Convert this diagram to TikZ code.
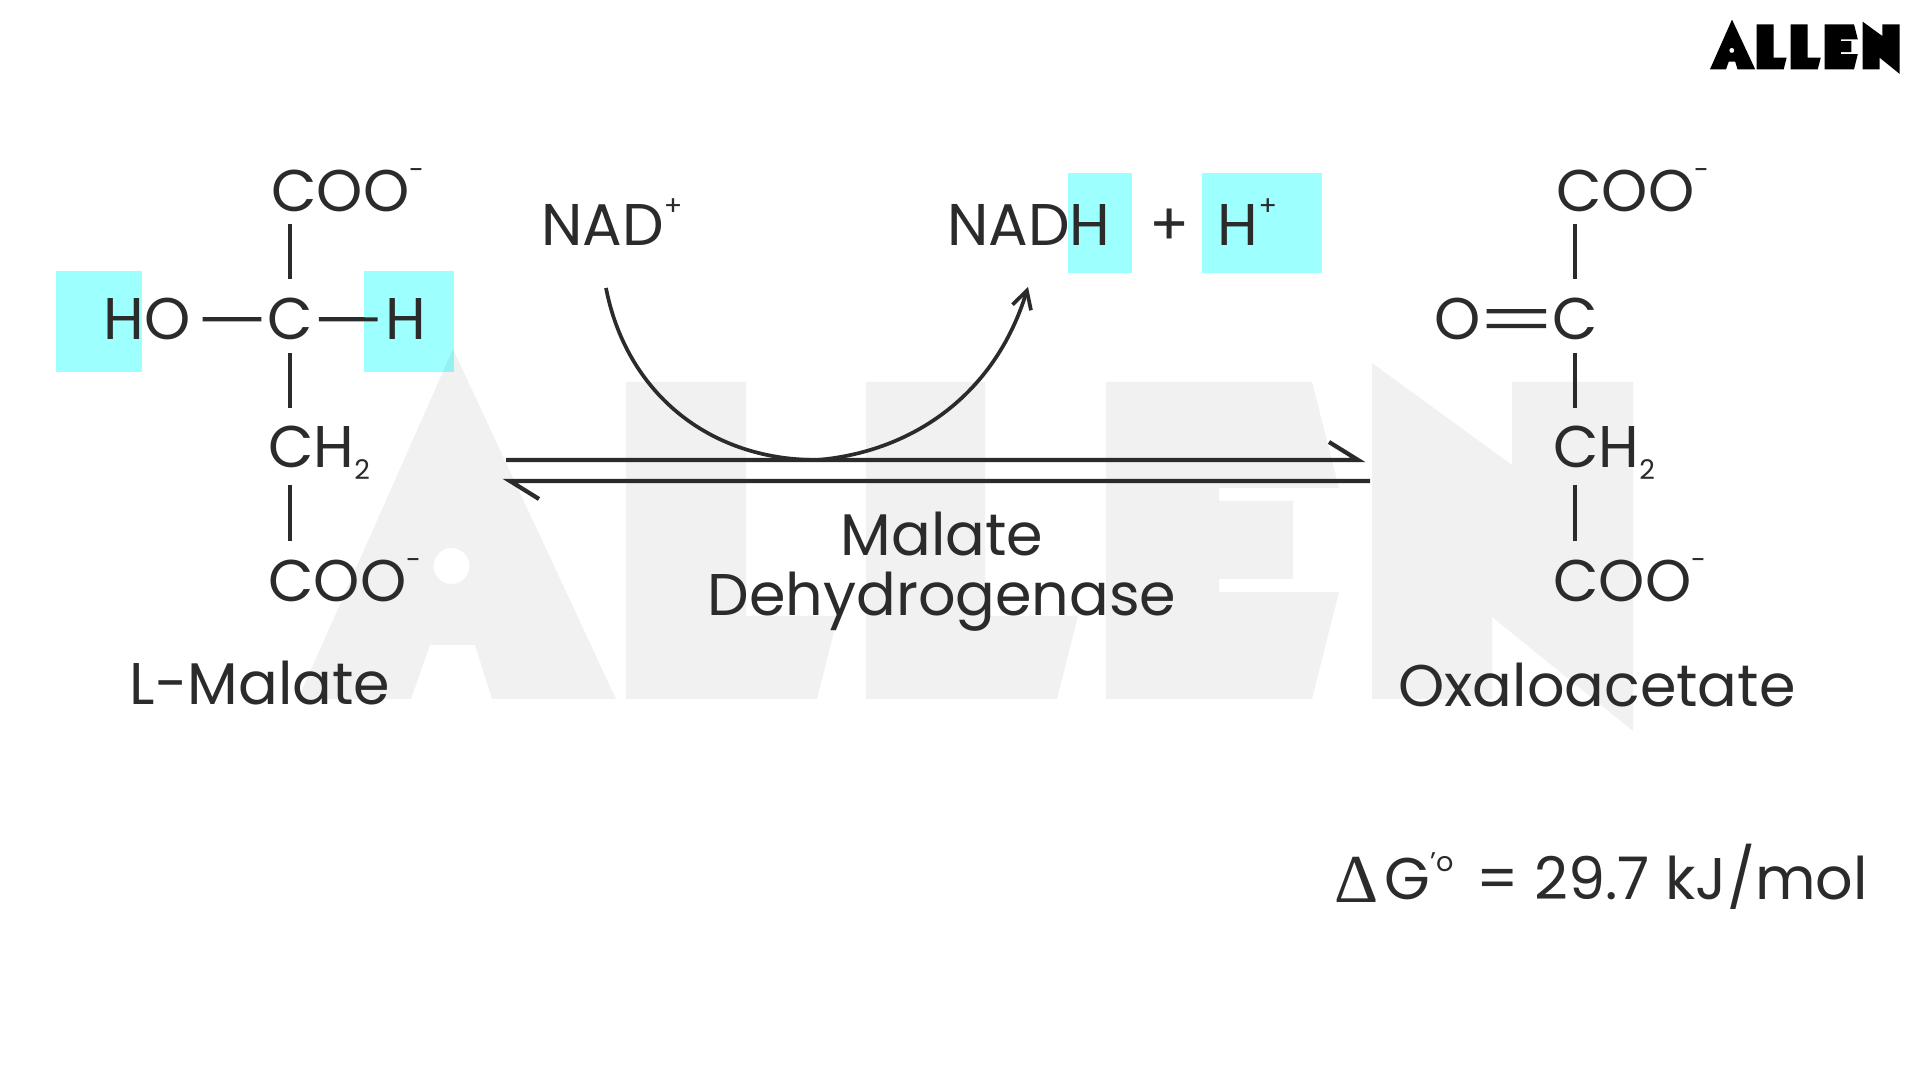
\documentclass[tikz,border=0pt]{standalone}
\usepackage{fontspec}
\setmainfont{Poppins}
\newfontfamily\deltafont{Liberation Serif}
\usetikzlibrary{arrows.meta}
\definecolor{inkgray}{HTML}{2B2B2B}
\definecolor{hilite}{HTML}{9EFFFF}
\newcommand{\chemup}[1]{\raisebox{8.6pt}[0pt][0pt]{\fontsize{7.7}{8}\selectfont #1}}
\newcommand{\chemminus}{\raisebox{9.2pt}[0pt][0pt]{\fontsize{7.7}{8}\selectfont -}}
\newcommand{\chemdown}[1]{\raisebox{-3.4pt}[0pt][0pt]{\fontsize{7.7}{8}\selectfont #1}}
\newcommand{\allenshape}{
	(453,349) -- (616,699) -- (492,699) -- (475,645) -- (430,645) -- (411,699) -- (298,699) -- cycle
	(451.5,566) circle (18)
	(626,382) -- (746,382) -- (746,616) -- (838,616) -- (817,699) -- (626,699) -- cycle
	(866,382) -- (985,382) -- (985,616) -- (1078,616) -- (1057,699) -- (866,699) -- cycle
	(1106,382) -- (1312,382) -- (1339,488) -- (1219,488) -- (1219,501) -- (1293,501) -- (1293,579) -- (1219,579) -- (1219,592) -- (1339,592) -- (1312,699) -- (1106,699) -- cycle
	(1372,363) -- (1512,465) -- (1512,382) -- (1633,382) -- (1633,731) -- (1492,617) -- (1492,699) -- (1372,699) -- cycle
}
\tikzset{
	chem/.style={anchor=base west,inner sep=0pt,outer sep=3.5pt,xshift=-3.1pt,yshift=-.25pt,text=inkgray,font=\fontsize{16.72}{17}\selectfont},
	bond/.style={draw=inkgray,line width=1.2pt},
	vbond/.style={bond,xshift=-.8pt},
	eqline/.style={draw=inkgray,line width=1.2pt,line join=miter},
}
\begin{document}
\begin{tikzpicture}[x=.01cm,y=-.01cm]
	\useasboundingbox (0,0) rectangle (1920,1080);
	\fill [white] (0,0) rectangle (1920,1080);
	\fill [hilite] (56,271) rectangle (142,372);
	\fill [hilite] (364,271) rectangle (454,372);
	\fill [hilite] (1068,173) rectangle (1132,273);
	\fill [hilite] (1202,173) rectangle (1322,273);
	\fill [black,opacity=.055,even odd rule] \allenshape;
	\begin{scope}[shift={(1710,69.3)},scale=.142,shift={(-298,-699)}]
		\fill [black,even odd rule] \allenshape;
	\end{scope}
	% L-malate
	\node [chem] (cootop) at (270,211) {COO\chemminus};
	\node [chem] (hydroxyl) at (102,339) {HO};
	\node [chem] (ccenter) at (266,339) {C};
	\node [chem] (hleft) at (384,339) {H};
	\node [chem] (chtwo) at (267,467) {CH\chemdown{2}};
	\node [chem] (coolow) at (267,601) {COO\chemminus};
	\node [chem] (malate) at (128.5,704) {L-Malate};
	\draw [vbond,shorten <=-.3pt,shorten >=1.9pt] (cootop.south -| ccenter.north) -- (ccenter.north);
	\draw [bond,shorten >=-1.8pt] (hydroxyl.east) -- (ccenter.west);
	\draw [bond,shorten <=-1.8pt,shorten >=-1.3pt] (ccenter.east) -- (hleft.west);
	\draw [vbond,shorten >=1.7pt] (ccenter.south) -- (chtwo.north -| ccenter.south);
	\draw [vbond,shorten <=1.2pt,shorten >=2.1pt] (chtwo.south -| ccenter.south) -- (coolow.north -| ccenter.south);
	% oxaloacetate
	\node [chem] (rcootop) at (1555,211) {COO\chemminus};
	\node [chem] (oxo) at (1432.6,339) {O};
	\node [chem] (rcenter) at (1551,339) {C};
	\node [chem] (rchtwo) at (1552,467) {CH\chemdown{2}};
	\node [chem] (rcoolow) at (1552,601) {COO\chemminus};
	\node [chem] (oxalo) at (1397,706) {Oxaloacetate};
	\draw [vbond,shorten <=-.3pt,shorten >=1.9pt] (rcootop.south -| rcenter.north) -- (rcenter.north);
	\draw [bond,shorten <=-1.7pt,shorten >=-1.7pt] ([yshift=2.3pt]oxo.east) -- ([yshift=2.3pt]rcenter.west);
	\draw [bond,shorten <=-1.7pt,shorten >=-1.7pt] ([yshift=-1.9pt]oxo.east) -- ([yshift=-1.9pt]rcenter.west);
	\draw [vbond,shorten >=1.7pt] (rcenter.south) -- (rchtwo.north -| rcenter.south);
	\draw [vbond,shorten <=1.2pt,shorten >=2.1pt] (rchtwo.south -| rcenter.south) -- (rcoolow.north -| rcenter.south);
	% cofactors
	\node [chem] (nad) at (540,245) {NAD\chemup{+}};
	\node [chem] (nadh) at (946,245) {NADH};
	\node [chem] (plus) at (1148.5,245) {+};
	\node [chem] (proton) at (1216.5,245) {H\chemup{+}};
	\coordinate (nadfrom) at (606,288);
	\coordinate (nadlow) at (817,460);
	\coordinate (nadto) at (1028,287);
	\draw [draw=inkgray,line width=1.05pt,-{Straight Barb[length=5pt,width=5.5pt]}] (nadfrom) .. controls (626,391) and (707,460) .. (nadlow) .. controls (912,452) and (995,395) .. (nadto);
	% equilibrium
	\coordinate (fwdstart) at (506,460);
	\coordinate (fwdtip) at (1358,460);
	\coordinate (fwdbarb) at (1329,442);
	\coordinate (revstart) at (1370,481);
	\coordinate (revtip) at (510,481);
	\coordinate (revbarb) at (539,499);
	\draw [eqline] (fwdstart) -- (fwdtip) -- (fwdbarb);
	\draw [eqline] (revstart) -- (revtip) -- (revbarb);
	\node [chem,anchor=base,xshift=3.1pt] (enzymeone) at (942,555) {Malate};
	\node [chem,anchor=base,xshift=3.1pt] (enzymetwo) at (942,615) {Dehydrogenase};
	% free energy
	\node [chem,font=\fontsize{19.5}{20}\selectfont\deltafont] (delta) at (1333,902) {Δ};
	\node [chem] (gibbs) at (1383,899) {G\raisebox{8.2pt}[0pt][0pt]{\fontsize{7.7}{8}\selectfont 'o}};
	\node [chem] (energy) at (1475,899) {= 29.7 kJ/mol};
\end{tikzpicture}
\end{document}
